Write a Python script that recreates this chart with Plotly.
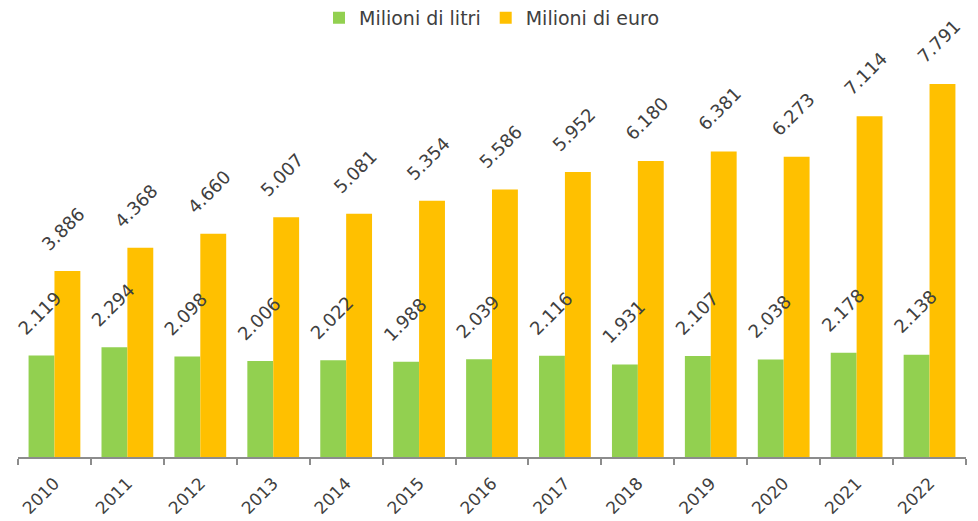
import plotly.graph_objects as go

years = ["2010", "2011", "2012", "2013", "2014", "2015", "2016",
         "2017", "2018", "2019", "2020", "2021", "2022"]
litri = [2119, 2294, 2098, 2006, 2022, 1988, 2039, 2116, 1931, 2107, 2038, 2178, 2138]
euro = [3886, 4368, 4660, 5007, 5081, 5354, 5586, 5952, 6180, 6381, 6273, 7114, 7791]

GREEN = "#92D050"
ORANGE = "#FFC000"
TEXT = "#404040"
FONT = "DejaVu Sans"

def fmt(v):
    return f"{v:,}".replace(",", ".")

fig = go.Figure()
fig.add_trace(go.Bar(x=years, y=litri, name="Milioni di litri",
                     marker=dict(color=GREEN, line=dict(width=0))))
fig.add_trace(go.Bar(x=years, y=euro, name="Milioni di euro",
                     marker=dict(color=ORANGE, line=dict(width=0))))

annotations = []
for series, shift in ((litri, -14), (euro, 9)):
    for i, v in enumerate(series):
        annotations.append(dict(
            x=i, y=v, xref="x", yref="y", text=fmt(v), showarrow=False,
            textangle=-45, xanchor="center", yanchor="bottom",
            xshift=shift, yshift=14,
            font=dict(family=FONT, size=18, color=TEXT)))

# the page body adds an 8px offset, so the figure is 8px smaller on each axis
fig.update_layout(
    width=970, height=513,
    margin=dict(l=10, r=12, t=32, b=64, autoexpand=False),
    paper_bgcolor="white", plot_bgcolor="white",
    barmode="group", bargap=0.29, bargroupgap=0,
    font=dict(family=FONT, size=17, color=TEXT),
    showlegend=True,
    legend=dict(orientation="h", x=0.5, xanchor="center", y=1.053, yanchor="middle",
                font=dict(family=FONT, size=19, color=TEXT)),
    annotations=annotations,
    xaxis=dict(type="category", categoryorder="array", categoryarray=years,
               range=[-0.5, len(years) - 0.5],
               showline=True, linecolor="#8C8C8C", linewidth=1.5,
               ticks="outside", tickson="boundaries", ticklen=6, tickcolor="#8C8C8C",
               tickwidth=1.5, tickangle=-45, showgrid=False, ticklabelstandoff=8,
               tickfont=dict(family=FONT, size=17, color=TEXT)),
    yaxis=dict(range=[0, 8709], visible=False, showgrid=False, zeroline=False),
)

fig.write_html("out.html")
